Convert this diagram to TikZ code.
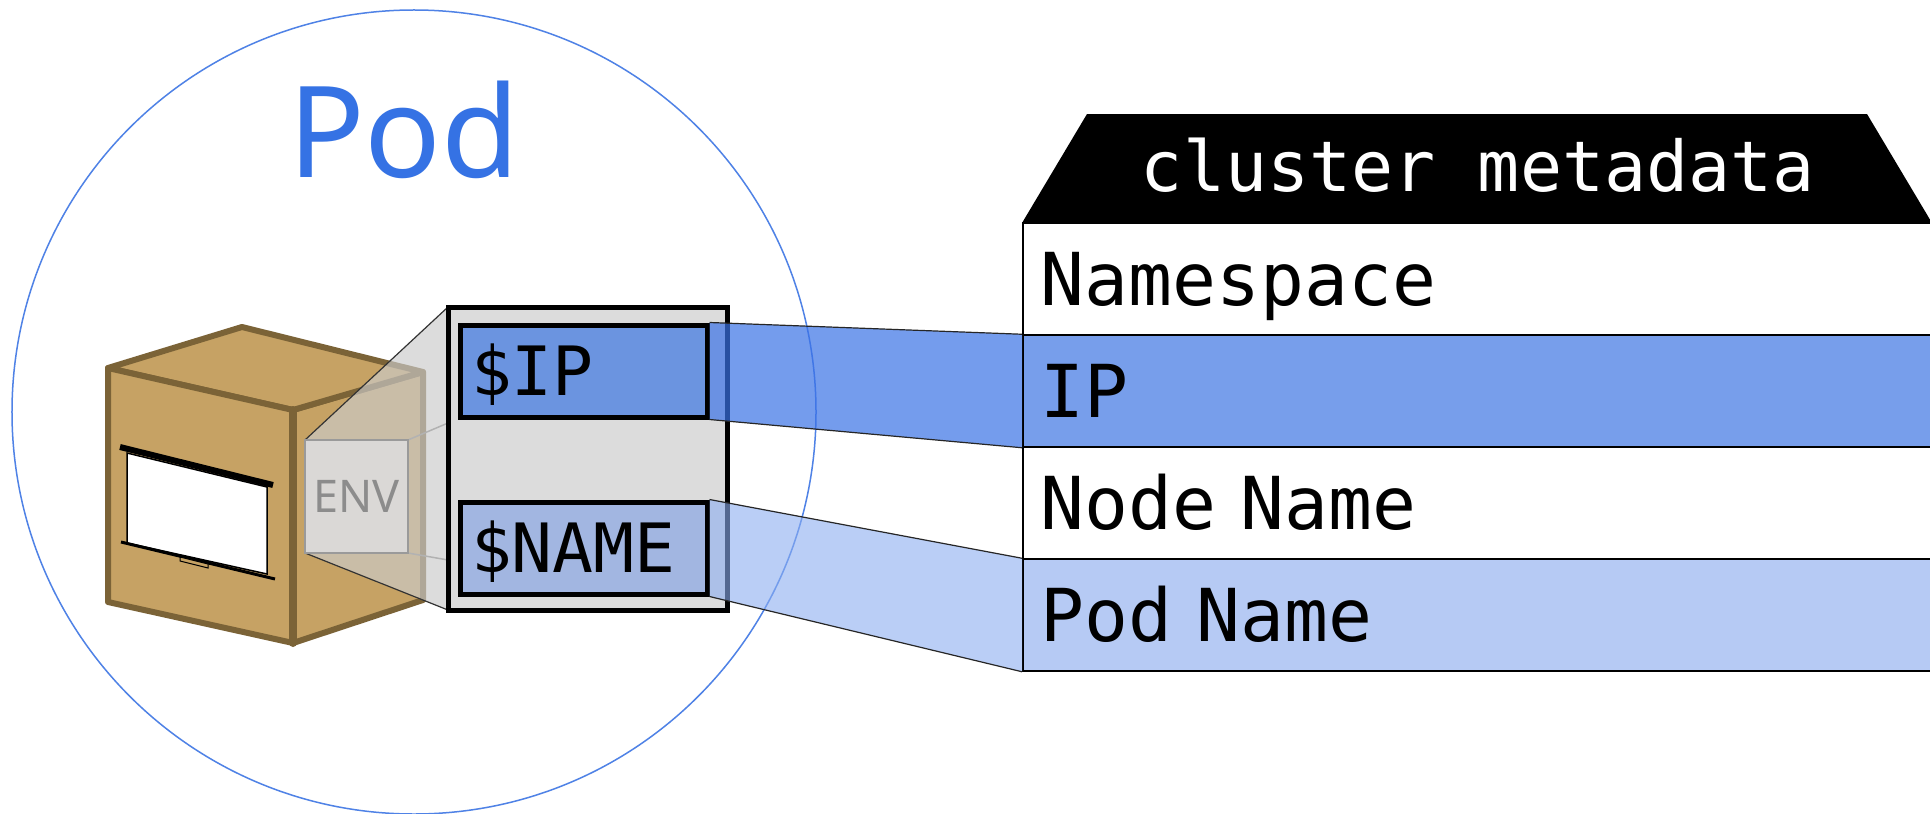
\documentclass[tikz,border=0pt]{standalone}
\usepackage{fontspec}
\setmainfont{Noto Sans}
\newfontfamily\monofont{DejaVu Sans Mono}
\usetikzlibrary{calc}

\definecolor{podblue}{HTML}{3572E4}
\definecolor{ringblue}{HTML}{4F82E6}
\definecolor{boxtan}{HTML}{C6A264}
\definecolor{boxbrown}{HTML}{7B6337}
\definecolor{panelgray}{HTML}{DCDCDC}
\definecolor{conegray}{HTML}{CBCBCB}
\definecolor{envtext}{HTML}{8C8C8C}
\definecolor{envedge}{HTML}{9A9A9A}
\definecolor{ipfill}{HTML}{6B94E0}
\definecolor{namefill}{HTML}{A2B6E1}
\definecolor{iprow}{HTML}{779EEB}
\definecolor{podrow}{HTML}{B6CAF4}
\definecolor{ipband}{HTML}{3A72E6}
\definecolor{nameband}{HTML}{8CAEF0}

\tikzset{
  ring/.style={draw=ringblue, line width=1.5bp},
  podlabel/.style={anchor=base, inner sep=0pt, text=podblue,
    font=\fontsize{127bp}{140bp}\selectfont},
  cubeface/.style={draw=boxbrown, fill=boxtan, line width=6bp, line join=round},
  coneedge/.style={draw=black!80, line width=1.2bp},
  conefar/.style={draw=black!30, line width=1.5bp},
  envbox/.style={draw=envedge, line width=2bp, fill=panelgray, fill opacity=0.9,
    text opacity=1, text=envtext, minimum width=103bp, minimum height=113bp,
    inner sep=0pt, text height=32bp, text depth=0pt,
    font=\fontsize{45bp}{50bp}\selectfont},
  framebox/.style={draw=black, line width=5bp, fill=panelgray,
    minimum width=279bp, minimum height=303bp, inner sep=0pt},
  varbox/.style={draw=black, line width=5bp, minimum width=247bp,
    minimum height=92bp, inner xsep=11bp, inner ysep=0pt, text width=225bp,
    align=left, text height=49bp, text depth=0pt,
    font=\monofont\fontsize{68bp}{72bp}\selectfont},
  hdrtext/.style={anchor=base, inner sep=0pt, text=white,
    font=\monofont\fontsize{70bp}{76bp}\selectfont},
  rowbox/.style={anchor=west, draw=black, line width=1.5bp, minimum width=1000bp,
    minimum height=112bp, inner xsep=18bp, inner ysep=0pt, text width=964bp,
    align=left, text height=53bp, text depth=0pt,
    font=\monofont\fontsize{73bp}{78bp}\selectfont},
  bandedge/.style={draw=black!85, line width=1.2bp},
}

\begin{document}
\begin{tikzpicture}[x=1bp, y=-1bp]
\useasboundingbox (0,0) rectangle (1930,814);
\clip (0,0) rectangle (1930,814);
\fill[white] (0,0) rectangle (1930,814);

% the pod
\draw[ring] (414,412) circle (402bp);
\node[podlabel] (pod) at (404,177) {Pod};

% container box
\coordinate (A) at (108,368);
\coordinate (B) at (242,327);
\coordinate (C) at (423,372);
\coordinate (D) at (293,410);
\coordinate (E) at (293,643);
\coordinate (F) at (108,602);
\coordinate (G) at (423,600);
\filldraw[cubeface] (D) -- (C) -- (G) -- (E) -- cycle;
\filldraw[cubeface] (A) -- (B) -- (C) -- (D) -- cycle;
\filldraw[cubeface] (A) -- (D) -- (E) -- (F) -- cycle;
\draw[boxbrown, line width=8bp, line cap=round] (D) -- (E);

% window on the front face
\filldraw[fill=white, draw=black, line width=1.5bp]
  (127,453) -- (267,487) -- (267,574) -- (127,543) -- cycle;
\draw[line width=6bp] (120,447) -- (273,485);
\draw[line width=3bp] (121,542) -- (275,579);
\filldraw[fill=boxtan, draw=black, line width=1bp]
  (180,557) -- (208,564) -- (208,568) -- (180,561) -- cycle;

% magnifying cone from ENV to the variable panel
\coordinate (eNW) at (305,440);
\coordinate (eSW) at (305,553);
\coordinate (eNE) at (408,440);
\coordinate (eSE) at (408,553);
\coordinate (fNW) at (448,307);
\coordinate (fSW) at (448,610);
\coordinate (fNm) at (448,423);
\coordinate (fSm) at (448,560);
\fill[conegray, fill opacity=0.66] (eNW) -- (fNW) -- (fSW) -- (eSW) -- cycle;
\draw[conefar] (eNE) -- (fNm);
\draw[conefar] (eSE) -- (fSm);
\draw[coneedge] (eNW) -- (fNW);
\draw[coneedge] (eSW) -- (fSW);

\node[envbox] (env) at (356.5,496.5) {ENV};

% variable panel
\node[framebox] (frame) at (587.5,458.5) {};
\node[varbox, fill=ipfill] (ipvar) at (583.5,371) {\$IP};
\node[varbox, fill=namefill] (namevar) at (583.5,548) {\$NAME};

% cluster metadata table
\fill[black] (1022,223) -- (1087,114) -- (1867,114) -- (1932,223) -- cycle;
\node[hdrtext] (hdr) at (1478,191) {cluster metadata};
\node[rowbox, fill=white] (rns) at (1022,279) {Namespace};
\node[rowbox, fill=iprow] (rip) at (1022,391) {IP};
\node[rowbox, fill=white] (rnode) at (1022,503) {Node Name};
\node[rowbox, fill=podrow] (rpod) at (1022,615) {Pod Name};

% bands linking variables to metadata fields
\fill[ipband, fill opacity=0.7]
  (ipvar.north east) -- (rip.north west) -- (rip.south west) -- (ipvar.south east) -- cycle;
\draw[bandedge] (ipvar.north east) -- (rip.north west);
\draw[bandedge] (ipvar.south east) -- (rip.south west);

\fill[nameband, fill opacity=0.6]
  (namevar.north east) -- (rpod.north west) -- (rpod.south west) -- (namevar.south east) -- cycle;
\draw[bandedge] (namevar.north east) -- (rpod.north west);
\draw[bandedge] (namevar.south east) -- (rpod.south west);
\end{tikzpicture}
\end{document}
